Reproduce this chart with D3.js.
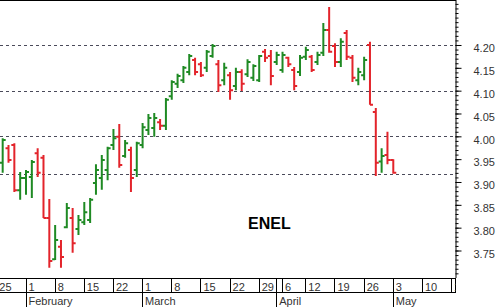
<!DOCTYPE html>
<html>
<head>
<meta charset="utf-8">
<script src="https://cdn.jsdelivr.net/npm/d3@7"></script>
<style>
  html, body { margin: 0; padding: 0; background: #fff; }
  svg { display: block; font-family: "Liberation Sans", Arial, sans-serif; }
</style>
</head>
<body>
<svg id="chart" width="500" height="307"></svg>
<script>
// ENEL daily bars, 26 Jan - 3 May 2010 (one value per trading session)
const firstSession = "2010-01-26";
const holidays = ["2010-04-02", "2010-04-05"];

const open = [3.942, 3.974, 3.981, 3.882, 3.909, 3.911, 3.963, 3.953, 3.821, 3.731,
  3.758, 3.801, 3.821, 3.797, 3.812, 3.817, 3.898, 3.909, 3.926, 3.981,
  3.999, 3.957, 3.970, 3.926, 3.981, 4.014, 4.018, 4.031, 4.023, 4.088,
  4.115, 4.123, 4.141, 4.167, 4.158, 4.150, 4.176, 4.158, 4.123, 4.134,
  4.110, 4.141, 4.136, 4.128, 4.123, 4.185, 4.176, 4.163, 4.145, 4.172,
  4.145, 4.141, 4.174, 4.174, 4.163, 4.183, 4.233, 4.198, 4.163, 4.226,
  4.172, 4.123, 4.134, 4.200, 4.053, 3.945, 3.959, 3.948];
const high = [3.996, 3.981, 3.985, 3.922, 3.926, 3.948, 3.974, 3.959, 3.863, 3.806,
  3.773, 3.854, 3.843, 3.828, 3.856, 3.865, 3.939, 3.959, 3.977, 4.016,
  4.027, 3.992, 3.977, 3.988, 4.029, 4.049, 4.051, 4.038, 4.084, 4.123,
  4.137, 4.154, 4.180, 4.172, 4.163, 4.189, 4.202, 4.167, 4.161, 4.141,
  4.150, 4.147, 4.169, 4.158, 4.178, 4.191, 4.189, 4.185, 4.185, 4.174,
  4.152, 4.178, 4.196, 4.178, 4.185, 4.248, 4.283, 4.204, 4.215, 4.233,
  4.178, 4.150, 4.174, 4.207, 4.062, 3.974, 4.010, 3.950];
const low = [3.920, 3.942, 3.878, 3.861, 3.872, 3.865, 3.911, 3.821, 3.712, 3.729,
  3.712, 3.799, 3.745, 3.784, 3.806, 3.810, 3.872, 3.883, 3.904, 3.970,
  3.931, 3.953, 3.878, 3.911, 3.974, 4.003, 3.999, 4.014, 4.014, 4.080,
  4.106, 4.117, 4.134, 4.134, 4.130, 4.141, 4.172, 4.097, 4.112, 4.080,
  4.101, 4.099, 4.130, 4.121, 4.119, 4.163, 4.112, 4.156, 4.139, 4.152,
  4.101, 4.132, 4.167, 4.141, 4.156, 4.176, 4.183, 4.152, 4.152, 4.167,
  4.119, 4.112, 4.123, 4.069, 3.913, 3.920, 3.939, 3.918];
const close = [3.992, 3.948, 3.882, 3.909, 3.922, 3.944, 3.920, 3.821, 3.727, 3.773,
  3.736, 3.843, 3.766, 3.817, 3.834, 3.861, 3.926, 3.948, 3.974, 3.996,
  3.937, 3.985, 3.909, 3.985, 4.020, 4.040, 4.040, 4.023, 4.080, 4.119,
  4.132, 4.150, 4.176, 4.141, 4.134, 4.185, 4.198, 4.112, 4.150, 4.101,
  4.141, 4.115, 4.163, 4.154, 4.176, 4.172, 4.132, 4.178, 4.178, 4.158,
  4.110, 4.172, 4.189, 4.145, 4.178, 4.233, 4.185, 4.163, 4.207, 4.174,
  4.128, 4.141, 4.167, 4.069, 3.942, 3.957, 3.948, 3.920];

// horizontal reference lines drawn on the chart
const levels = [4.20, 4.10, 4.00, 3.918];
const priceTicks = [3.75, 3.80, 3.85, 3.90, 3.95, 4.00, 4.05, 4.10, 4.15, 4.20];
const monthNames = ["January", "February", "March", "April", "May"];
const title = "ENEL";

const W = 500, H = 307;
const plotW = 456, plotH = 278, row1 = 293;

const fmt = d3.timeFormat("%Y-%m-%d");

// trading calendar (weekdays minus exchange holidays)
const sessions = d3.timeDay.range(new Date(2010, 0, 25), new Date(2010, 4, 22))
  .filter(d => d.getDay() !== 0 && d.getDay() !== 6 && !holidays.includes(fmt(d)));

const start = sessions.findIndex(d => fmt(d) === firstSession);
const bars = open.map((o, i) => ({
  date: sessions[start + i], o, h: high[i], l: low[i], c: close[i]
}));

const x = d3.scalePoint()
  .domain(sessions.map(fmt))
  .range([-3.15, -3.15 + 5.83 * (sessions.length - 1)]);

const y = d3.scaleLinear()
  .domain([3.6898, 4.2985])
  .range([plotH, 0]);

const svg = d3.select("#chart");

svg.append("defs").append("clipPath").attr("id", "plotclip")
  .append("rect").attr("width", plotW).attr("height", H);

// reference levels
svg.append("g")
  .selectAll("line")
  .data(levels)
  .join("line")
  .attr("x1", 0).attr("x2", plotW)
  .attr("y1", d => Math.round(y(d)) + 0.5)
  .attr("y2", d => Math.round(y(d)) + 0.5)
  .attr("stroke", "#4a4a5a")
  .attr("stroke-dasharray", "3,3");

// OHLC bars
const up = "#1f8a24", down = "#e3242b";
svg.append("g")
  .attr("clip-path", "url(#plotclip)")
  .selectAll("path")
  .data(bars)
  .join("path")
  .attr("fill", "none")
  .attr("stroke", d => d.c < d.o ? down : up)
  .attr("stroke-width", 2)
  .attr("d", d => {
    const cx = x(fmt(d.date));
    return `M${cx},${y(d.h)}V${y(d.l)}` +
      `M${cx - 3},${y(d.o)}H${cx}` +
      `M${cx},${y(d.c)}H${cx + 3}`;
  });

// title
svg.append("text")
  .attr("x", 248).attr("y", 229)
  .attr("font-size", 16).attr("font-weight", "bold")
  .attr("fill", "#000")
  .text(title);

// price axis on the right
const minor = d3.range(370, 430).map(v => v / 100);
svg.append("g")
  .attr("transform", `translate(${plotW - 0.5},0)`)
  .call(d3.axisRight(y).tickValues(minor).tickSize(3).tickFormat(""))
  .call(g => g.select(".domain").remove());

svg.append("g")
  .attr("transform", `translate(${plotW - 0.5},0)`)
  .call(d3.axisRight(y).tickValues(priceTicks).tickSize(6).tickSizeOuter(0)
    .tickPadding(12).tickFormat(d3.format(".2f")))
  .call(g => g.select(".domain").attr("d", `M0.5,0V${plotH}`))
  .call(g => g.selectAll("text")
    .attr("font-family", "Liberation Sans, Arial, sans-serif")
    .attr("font-size", 11)
    .attr("fill", "#333")
    .attr("dy", "0.62em"));

// frame
const frame = svg.append("g").attr("stroke", "#000").attr("shape-rendering", "crispEdges");
frame.append("line").attr("x1", 0).attr("x2", plotW).attr("y1", 0.5).attr("y2", 0.5);
frame.append("line").attr("x1", 0).attr("x2", plotW).attr("y1", plotH + 0.5).attr("y2", plotH + 0.5);
frame.append("line").attr("x1", 0).attr("x2", plotW).attr("y1", row1 - 0.5).attr("y2", row1 - 0.5);
frame.append("line").attr("x1", plotW - 0.5).attr("x2", plotW - 0.5).attr("y1", plotH).attr("y2", row1);

// date axis: week row and month row
const weekStarts = sessions.filter((d, i) => i === 0 ||
  +d3.timeMonday.floor(d) !== +d3.timeMonday.floor(sessions[i - 1]));
const monthStarts = sessions.filter((d, i) => i > 0 && d.getMonth() !== sessions[i - 1].getMonth());
const sx = d => Math.floor(x(fmt(d))) + 0.5;

const dateAxis = svg.append("g").attr("clip-path", "url(#plotclip)");

dateAxis.append("g")
  .selectAll("line")
  .data(weekStarts.concat(monthStarts))
  .join("line")
  .attr("x1", sx).attr("x2", sx)
  .attr("y1", plotH).attr("y2", row1)
  .attr("stroke", "#000");

dateAxis.append("g")
  .selectAll("line")
  .data(monthStarts)
  .join("line")
  .attr("x1", sx).attr("x2", sx)
  .attr("y1", row1).attr("y2", H)
  .attr("stroke", "#000");

dateAxis.append("g")
  .selectAll("text")
  .data(weekStarts)
  .join("text")
  .attr("x", d => x(fmt(d)) + 2.5)
  .attr("y", 290.5)
  .attr("font-size", 11)
  .attr("fill", "#333")
  .text(d => d.getDate());

dateAxis.append("g")
  .selectAll("text")
  .data(monthStarts)
  .join("text")
  .attr("x", d => x(fmt(d)) + 2.5)
  .attr("y", 304.5)
  .attr("font-size", 11)
  .attr("fill", "#333")
  .text(d => monthNames[d.getMonth()]);
</script>
</body>
</html>
